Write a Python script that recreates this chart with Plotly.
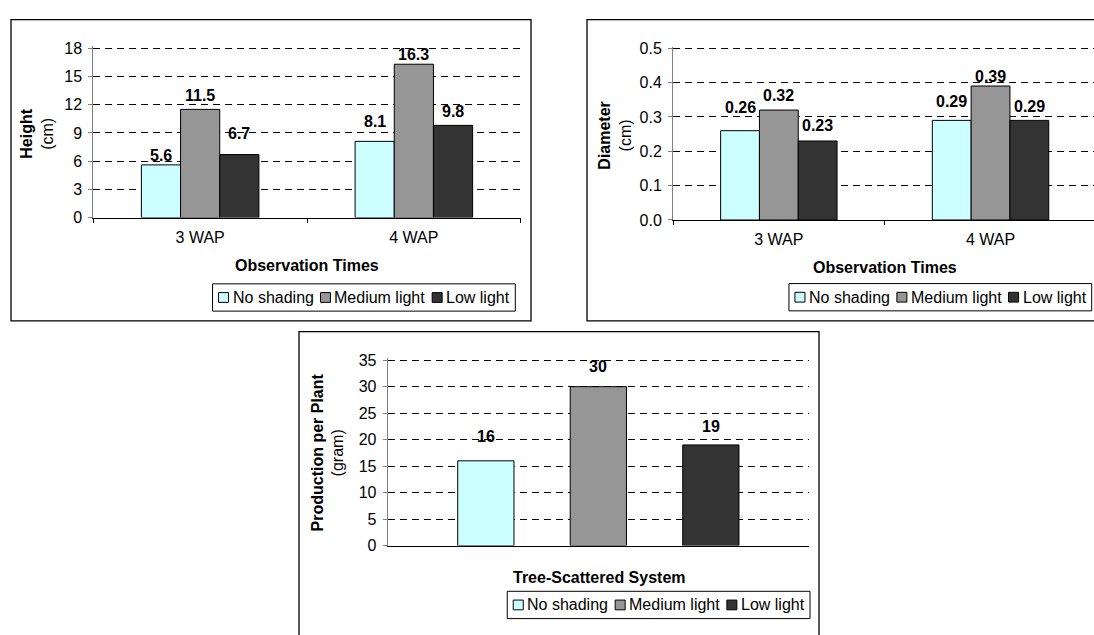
import plotly.graph_objects as go

# Canvas size in pixels
W, H = 1094, 635

# ---- data -------------------------------------------------------------
times = ["3 WAP", "4 WAP"]
treatments = ["No shading", "Medium light", "Low light"]

height_no_shading = [5.6, 8.1]
height_medium_light = [11.5, 16.3]
height_low_light = [6.7, 9.8]

diameter_no_shading = [0.26, 0.29]
diameter_medium_light = [0.32, 0.39]
diameter_low_light = [0.23, 0.29]

production_per_plant = [16, 30, 19]

height_ticks = [0, 3, 6, 9, 12, 15, 18]
diameter_ticks = [0.0, 0.1, 0.2, 0.3, 0.4, 0.5]
production_ticks = [0, 5, 10, 15, 20, 25, 30, 35]

# ---- styling ----------------------------------------------------------
FONT = "Liberation Sans, Arial, Helvetica, sans-serif"
FS = 16
fill_colors = ["#CCFFFF", "#969696", "#333333"]
BAR_GAP = 0.45

# how far (px) each value label sits above its bar top
height_label_lift = [[9, 20], [14, 10], [21, 14]]
diameter_label_lift = [[23, 19], [15, 10], [15, 14]]
production_label_lift = [24, 20, 18]

# Arial / Liberation Sans advance widths (1/1000 em) for legend layout
ADV = {" ": 278, "N": 722, "o": 556, "s": 500, "h": 556, "a": 556, "d": 556,
       "i": 222, "n": 556, "g": 556, "M": 833, "e": 556, "u": 556, "m": 833,
       "l": 222, "t": 278, "L": 556, "w": 722}


def text_width(s, size):
    return sum(ADV.get(c, 556) for c in s) * size / 1000.0


def fx(x):
    return x / W


def fy(y):
    return 1 - y / H


def value_domain(zero_px, top_px, top_val, range_max):
    """Paper domain that puts 0 at zero_px and top_val at top_px."""
    per_unit = (zero_px - top_px) / top_val
    return [fy(zero_px), fy(zero_px - range_max * per_unit)]


height_series = [height_no_shading, height_medium_light, height_low_light]
diameter_series = [diameter_no_shading, diameter_medium_light, diameter_low_light]

fig = go.Figure()

for k, name in enumerate(treatments):
    fig.add_trace(go.Bar(
        x=times, y=height_series[k], name=name, showlegend=False,
        marker=dict(color=fill_colors[k], line=dict(color="#000000", width=1)),
        xaxis="x", yaxis="y", hoverinfo="skip",
    ))
for k, name in enumerate(treatments):
    fig.add_trace(go.Bar(
        x=times, y=diameter_series[k], name=name, showlegend=False,
        marker=dict(color=fill_colors[k], line=dict(color="#000000", width=1)),
        xaxis="x2", yaxis="y2", hoverinfo="skip",
    ))
for k, name in enumerate(treatments):
    fig.add_trace(go.Bar(
        x=[name], y=[production_per_plant[k]], name=name, showlegend=False,
        width=0.5, offset=-0.25,
        marker=dict(color=fill_colors[k], line=dict(color="#000000", width=1)),
        xaxis="x3", yaxis="y3", hoverinfo="skip",
    ))

annotations = []
shapes = []
label_font = dict(family=FONT, size=FS, color="#000000")
slot = (1 - BAR_GAP) / len(treatments)

# value labels
for k in range(len(treatments)):
    for i in range(len(times)):
        v = height_series[k][i]
        annotations.append(dict(
            x=i + (k - 1) * slot, y=v, xref="x", yref="y",
            text=f"<b>{v:.1f}</b>", showarrow=False, xanchor="center",
            yanchor="middle", yshift=height_label_lift[k][i], font=label_font,
        ))
        v = diameter_series[k][i]
        annotations.append(dict(
            x=i + (k - 1) * slot, y=v, xref="x2", yref="y2",
            text=f"<b>{v:.2f}</b>", showarrow=False, xanchor="center",
            yanchor="middle", yshift=diameter_label_lift[k][i], font=label_font,
        ))
    v = production_per_plant[k]
    annotations.append(dict(
        x=treatments[k], y=v, xref="x3", yref="y3",
        text=f"<b>{v:.0f}</b>", showarrow=False, xanchor="center",
        yanchor="middle", yshift=production_label_lift[k], font=label_font,
    ))

# axis titles
title_font = dict(family=FONT, size=FS, color="#000000")
paper_text = dict(xref="paper", yref="paper", showarrow=False,
                  xanchor="center", yanchor="middle", font=title_font)
annotations += [
    dict(paper_text, x=fx(37), y=fy(130), textangle=-90,
         text="<b>Height</b><br>(cm)"),
    dict(paper_text, x=fx(615), y=fy(132), textangle=-90,
         text="<b>Diameter</b><br>(cm)"),
    dict(paper_text, x=fx(328), y=fy(457), textangle=-90,
         text="<b>Production per Plant</b><br>(gram)"),
    dict(paper_text, x=fx(307), y=fy(265), text="<b>Observation Times</b>"),
    dict(paper_text, x=fx(885), y=fy(267), text="<b>Observation Times</b>"),
    dict(paper_text, x=fx(599), y=fy(585), text="<b>Tree-Scattered System</b>"),
]

# chart frames
frame = dict(type="rect", xref="paper", yref="paper",
             line=dict(color="#000000", width=1.3), fillcolor="rgba(0,0,0,0)", layer="below")
shapes += [
    dict(frame, x0=fx(11), x1=fx(531), y0=fy(322), y1=fy(13)),
    dict(frame, x0=fx(587), x1=fx(1110), y0=fy(322), y1=fy(13)),
    dict(frame, x0=fx(299), x1=fx(819), y0=fy(645), y1=fy(333)),
]

# legends: boxed row of swatches and names, right-aligned
SQ, SQ_GAP, ITEM_GAP, PAD_L, PAD_R, BOX_H = 10, 4, 7, 6, 6, 28


def add_legend(right_px, mid_px):
    widths = [text_width(t, FS) for t in treatments]
    total = PAD_L + PAD_R + sum(SQ + SQ_GAP + w for w in widths) + ITEM_GAP * (len(widths) - 1)
    left = right_px - total
    shapes.append(dict(type="rect", xref="paper", yref="paper",
                       x0=fx(left), x1=fx(right_px),
                       y0=fy(mid_px + BOX_H / 2), y1=fy(mid_px - BOX_H / 2),
                       line=dict(color="#000000", width=1), fillcolor="white"))
    x = left + PAD_L
    for k, name in enumerate(treatments):
        shapes.append(dict(type="rect", xref="paper", yref="paper",
                           x0=fx(x), x1=fx(x + SQ),
                           y0=fy(mid_px + SQ / 2), y1=fy(mid_px - SQ / 2),
                           line=dict(color="#000000", width=1),
                           fillcolor=fill_colors[k]))
        annotations.append(dict(xref="paper", yref="paper", showarrow=False,
                                x=fx(x + SQ + SQ_GAP), y=fy(mid_px),
                                xanchor="left", yanchor="middle",
                                borderpad=0, borderwidth=0,
                                text=name, font=dict(family=FONT, size=FS, color="#000000")))
        x += SQ + SQ_GAP + widths[k] + ITEM_GAP


add_legend(515.3, 298)
add_legend(1091.7, 297.7)
add_legend(810, 613.4)

tick_font = dict(family=FONT, size=FS, color="#000000")


def cat_axis(domain, anchor, rng, **extra):
    ax = dict(domain=domain, anchor=anchor, type="category", range=rng,
              showline=True, linecolor="#000000", linewidth=1,
              ticks="outside", tickson="boundaries", ticklen=4, tickcolor="#000000",
              tickfont=tick_font, showgrid=False, zeroline=False,
              ticklabelstandoff=5, fixedrange=True)
    ax.update(extra)
    return ax


def val_axis(domain, anchor, rng, tickvals, fmt):
    return dict(domain=domain, anchor=anchor, range=rng, tickvals=tickvals,
                tickformat=fmt, showline=True, linecolor="#808080", linewidth=1,
                ticks="outside", ticklen=4, tickcolor="#808080", tickfont=tick_font,
                ticklabelstandoff=3,
                showgrid=True, gridcolor="#000000", gridwidth=1, griddash="7px,5px",
                zeroline=False, fixedrange=True)


# value ranges run a hair past the top tick so its gridline is kept
fig.update_layout(
    width=W, height=H,
    margin=dict(l=0, r=0, t=0, b=0),
    paper_bgcolor="white", plot_bgcolor="white",
    font=dict(family=FONT, color="#000000"),
    showlegend=False,
    barmode="group", bargap=BAR_GAP, bargroupgap=0,
    xaxis=cat_axis([fx(93.3), fx(520.7)], "y", [-0.5, 1.5]),
    yaxis=val_axis(value_domain(216, 42.3, 18, 18.2), "x", [0, 18.2], height_ticks, "d"),
    xaxis2=cat_axis([fx(673), 1.0], "y2", [-0.5, 1.4887]),
    yaxis2=val_axis(value_domain(218.5, 42.3, 0.5, 0.505), "x2", [0, 0.505], diameter_ticks, ".1f"),
    xaxis3=cat_axis([fx(387.7), fx(809)], "y3", [-0.8724, 2.8724],
                    showticklabels=False, ticks=""),
    yaxis3=val_axis(value_domain(552.5, 362.3, 35, 35.35), "x3", [0, 35.35], production_ticks, "d"),
    annotations=annotations,
    shapes=shapes,
)

fig.write_html("out.html")
